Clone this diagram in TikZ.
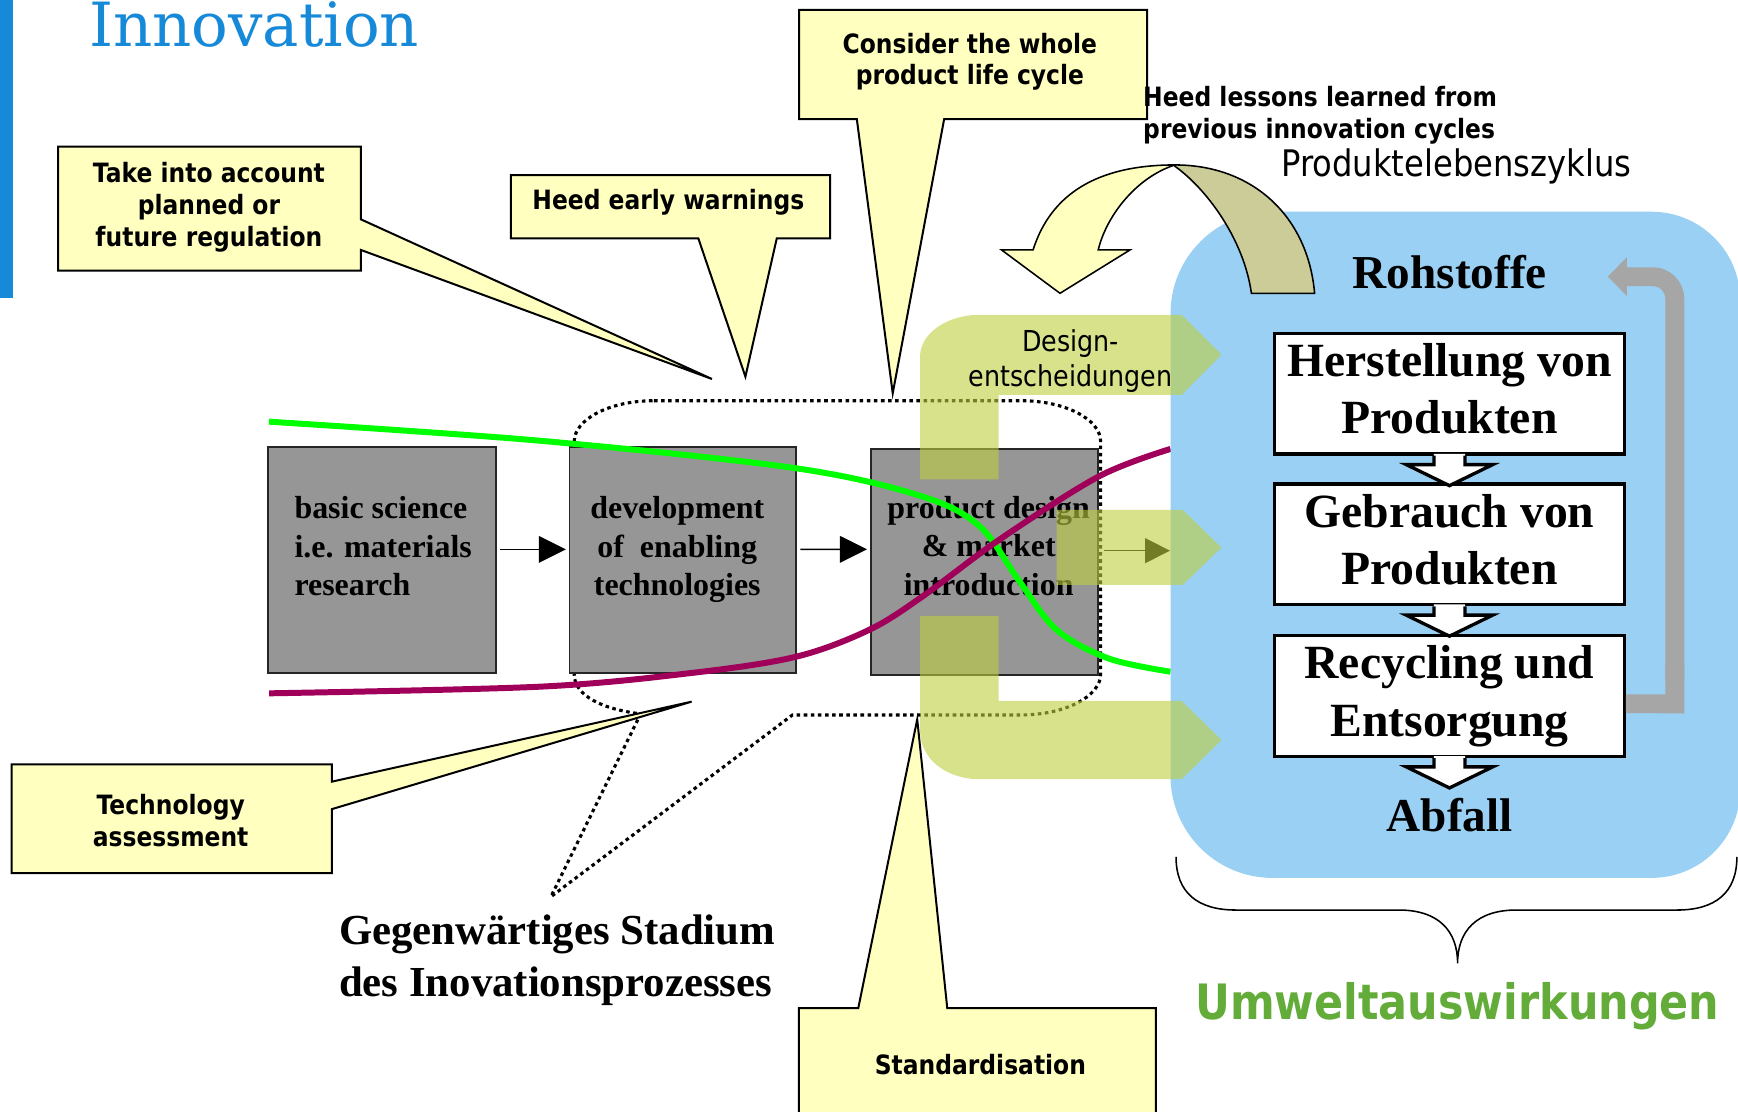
\documentclass[tikz,border=0pt]{standalone}
\usepackage{fontspec}
\setmainfont{Liberation Serif}
\newfontfamily\callfont[FakeStretch=0.88]{DejaVu Sans}
\newfontfamily\titlefont{DejaVu Serif}
\usetikzlibrary{arrows.meta}
\newcommand\txtrows[2]{\begin{tabular}[t]{@{}#1@{}}#2\end{tabular}}

\definecolor{calloutyellow}{RGB}{255,255,192}
\definecolor{boxgrey}{RGB}{150,150,150}
\definecolor{cycleblue}{RGB}{153,208,243}
\definecolor{titleblue}{RGB}{22,137,216}
\definecolor{leafgreen}{RGB}{0,255,0}
\definecolor{wine}{RGB}{160,0,90}
\definecolor{hatchgreen}{RGB}{190,206,62}
\definecolor{arcolive}{RGB}{204,204,153}
\definecolor{returngrey}{RGB}{166,166,166}
\definecolor{envgreen}{RGB}{99,172,58}

\begin{document}
\begin{tikzpicture}[x=0.5pt, y=-0.5pt,
  callout/.style={fill=calloutyellow, draw=black, line width=0.9pt, line join=miter},
  calltext/.style={font=\callfont\bfseries\fontsize{12}{14.3}\selectfont, inner sep=0pt, anchor=base},
  greybox/.style={draw=black!85, fill=boxgrey, line width=0.8pt, inner sep=0pt},
  boxtext/.style={font=\bfseries\fontsize{14.4}{17.5}\selectfont, inner sep=0pt},
  cyclebox/.style={draw=black, fill=white, line width=1.5pt, minimum width=157.7pt,
    minimum height=54.45pt, inner sep=0pt, font=\bfseries\fontsize{21.5}{25.9}\selectfont},
  bigserif/.style={font=\bfseries\fontsize{21.3}{25}\selectfont, inner sep=0pt, anchor=base},
  flowarrow/.style={-{Triangle[length=12.25pt,width=12pt]}, line width=0.75pt},
  dotline/.style={line width=1.4pt, dash pattern=on 1.6pt off 1.6pt},
  hatch/.style={fill=hatchgreen, fill opacity=0.6},
  curve/.style={line width=2.7pt}
]
\useasboundingbox (0,0) rectangle (1568,1003);
\clip (0,0) rectangle (1568,1003);

% heading
\fill[titleblue] (0,0) rectangle (11.4,268.6);
\node[anchor=base west, inner sep=0pt, font=\titlefont\fontsize{27.5}{30}\selectfont, text=titleblue] (title) at (80,42) {Innovation};

% current stage of the innovation process (dotted callout)
\draw[dotline] (590,361.5) -- (921,361.5) .. controls (960.8,361.5) and (993,378.1) .. (993,398.5)
  -- (993,608) .. controls (993,628.4) and (960.8,645) .. (921,645) -- (715,645) -- (497,809)
  -- (578,644) .. controls (545,640) and (518,628.4) .. (518,608) -- (518,398.5)
  .. controls (518,378.1) and (550.2,361.5) .. (590,361.5) -- cycle;

% innovation stages
\node[greybox, minimum width=102.7pt, minimum height=101.95pt] (b1) at (344.5,505.5) {};
\node[greybox, minimum width=102.1pt, minimum height=101.95pt] (b2) at (615.9,505.5) {};
\node[greybox, minimum width=102.35pt, minimum height=101.8pt] (b3) at (888.2,507.2) {};
\node[boxtext, anchor=base west] (t1) at (265.3,467.6) {\txtrows{l}{basic science\\i.e. materials\\research}};
\node[boxtext, anchor=base] (t2) at (611,467.6) {\txtrows{c}{development\\of~~enabling\\technologies}};
\node[boxtext, anchor=base] (t3) at (892,467.5) {\txtrows{c}{product design\\\& market\\introduction}};
\draw[flowarrow, shorten <=1.7pt, shorten >=1.2pt] ([yshift=4.95pt]b1.east) -- ([yshift=4.95pt]b2.west);
\draw[flowarrow, shorten <=1.65pt, shorten >=1.4pt] ([yshift=4.95pt]b2.east) -- ([yshift=5.8pt]b3.west);
\coordinate (midtip) at (1055.5,496.8);
\draw[-{Triangle[length=11.25pt,width=11.3pt]}, line width=0.5pt, shorten <=2.45pt] ([yshift=5.2pt]b3.east) -- (midtip);

% trend curves
\draw[curve, leafgreen] plot[smooth, tension=0.55] coordinates {(242.6,380.4) (487,397.6) (718.5,422.5) (832.4,448) (884,475) (918.7,523) (953,568) (1000,594) (1056,606)};
\draw[curve, wine] plot[smooth, tension=0.55] coordinates {(242.8,625.5) (487,619.5) (625,607) (718.5,592.4) (784,568.3) (832.4,538) (901.4,487) (991,430) (1056,405)};

% product life cycle panel
\fill[cycleblue] (1148,191) -- (1490,191) .. controls (1534.2,191) and (1570,226.8) .. (1570,271)
  -- (1570,712) .. controls (1570,756.2) and (1534.2,792) .. (1490,792) -- (1148,792)
  .. controls (1097.2,792) and (1056,750.8) .. (1056,700) -- (1056,283)
  .. controls (1056,232.2) and (1097.2,191) .. (1148,191) -- cycle;
\node[bigserif] (raw) at (1308,260) {Rohstoffe};
\node[cyclebox] (make) at (1307.7,355.2) {\txtrows{c}{Herstellung von\\Produkten}};
\node[cyclebox] (use) at (1307.7,491) {\txtrows{c}{Gebrauch von\\Produkten}};
\node[cyclebox] (recyc) at (1307.7,627.9) {\txtrows{c}{Recycling und\\Entsorgung}};
\node[bigserif] (waste) at (1308,750.3) {Abfall};
\foreach \n in {make,use,recyc} {
  \fill[white] ([yshift=0.8pt]\n.south) ++(-14,0) -- ++(0,9.6) -- ++(-25,0) -- ++(39,19) -- ++(39,-19) -- ++(-25,0) -- ++(0,-9.6) -- cycle;
  \draw[line width=1.5pt, line join=miter] (\n.south) ++(-14,0) -- ++(0,8) -- ++(-25,0) -- ++(39,19) -- ++(39,-19) -- ++(-25,0) -- ++(0,-8);
}
% return flow to raw materials
\draw[returngrey, line width=8.5pt, line join=miter] (recyc.east) ++(0,7) -- (1511,635) -- (1511,600);
\draw[returngrey, line width=8.5pt, rounded corners=10pt] (1511,612) -- (1511,249.6) -- (1467,249.6);
\fill[returngrey] (1467.7,232) -- (1450.6,249.6) -- (1467.7,267) -- cycle;
\node[anchor=base west, inner sep=0pt, font=\callfont\fontsize{16.5}{20}\selectfont] (plz) at (1155.6,159.4) {Produktelebenszyklus};

% yellow callouts
\filldraw[callout] (52.5,132.3) -- (325.6,132.3) -- (325.6,197.9) -- (642.3,341.9) -- (325.6,225.5) -- (325.6,244.2) -- (52.5,244.2) -- cycle;
\node[calltext] (ctake) at (188.5,164.8) {\txtrows{c}{Take into account\\planned or\\future regulation}};
\filldraw[callout] (461,158) -- (749,158) -- (749,215) -- (700.8,215) -- (672.5,339.8) -- (630,215) -- (461,215) -- cycle;
\node[calltext] (cwarn) at (603,189.4) {Heed early warnings};
\filldraw[callout] (720.9,9) -- (1035,9) -- (1035,107.4) -- (851.8,107.4) -- (805.4,354.8) -- (773,107.4) -- (720.9,107.4) -- cycle;
\node[calltext] (ccons) at (875,48) {\txtrows{c}{Consider the whole\\product life cycle}};
\filldraw[callout] (10.4,689.5) -- (299.3,689.5) -- (299.3,705.2) -- (624,633) -- (299.3,730) -- (299.3,787.8) -- (10.4,787.8) -- cycle;
\node[calltext] (ctech) at (154,735.2) {\txtrows{c}{Technology\\assessment}};
\filldraw[callout] (720.8,909.6) -- (774.3,909.6) -- (827.5,649) -- (854.6,909.6) -- (1042.9,909.6) -- (1042.9,1012) -- (720.8,1012) -- cycle;
\node[calltext] (cstd) at (884.5,969.8) {Standardisation};

% feedback arrow from the life cycle
\filldraw[fill=arcolive, draw=black, line width=0.7pt] (1060,148.8) .. controls (1130,148.8) and (1180,195) .. (1186,264.6) -- (1129,264.6) .. controls (1122,215) and (1088,170) .. (1060,150) -- cycle;
\filldraw[fill=calloutyellow, draw=black, line width=0.7pt, line join=miter] (903.6,225.5) -- (932,225.5) .. controls (948,175) and (990,148.8) .. (1060,148.8) .. controls (1025,160) and (998,195) .. (990.8,225.5) -- (1019.4,225.5) -- (956.3,264.6) -- cycle;
\node[calltext, anchor=base west] (clessons) at (1031,96.2) {\txtrows{l}{Heed lessons learned from\\previous innovation cycles}};

% design decisions
\fill[hatch] (830,432.4) -- (830,322) .. controls (830,301) and (854,284) .. (884,284) -- (1066,284) -- (1102,320) -- (1066,356.3) -- (901,356.3) -- (901,432.4) -- cycle;
\fill[hatch] (953.3,460) -- (1067,460) -- (1102,494) -- (1067,527.7) -- (953.3,527.7) -- cycle;
\fill[hatch] (830,555.7) -- (901,555.7) -- (901,632.4) -- (1066,632.4) -- (1102,667.6) -- (1066,703) -- (884,703) .. controls (854,703) and (830,685) .. (830,658.6) -- cycle;
\node[anchor=base, inner sep=0pt, font=\callfont\fontsize{13}{15.9}\selectfont] (design) at (966,317) {\txtrows{c}{Design-\\entscheidungen}};

% environmental impact
\draw[line width=0.7pt] (1061,773) .. controls (1061,805) and (1080,821) .. (1115,821) -- (1262,821)
  .. controls (1298,821) and (1315,840) .. (1315,869) .. controls (1315,840) and (1332,821) .. (1368,821)
  -- (1513,821) .. controls (1548,821) and (1567,805) .. (1567,773);
\node[anchor=base west, inner sep=0pt, font=\callfont\bfseries\fontsize{22}{26}\selectfont, text=envgreen] (env) at (1078,920) {Umweltauswirkungen};

\node[anchor=base west, inner sep=0pt, font=\bfseries\fontsize{19.3}{23.3}\selectfont] (stage) at (305.5,852.5) {\txtrows{l}{Gegenwärtiges Stadium\\des Inovationsprozesses}};
\end{tikzpicture}
\end{document}
